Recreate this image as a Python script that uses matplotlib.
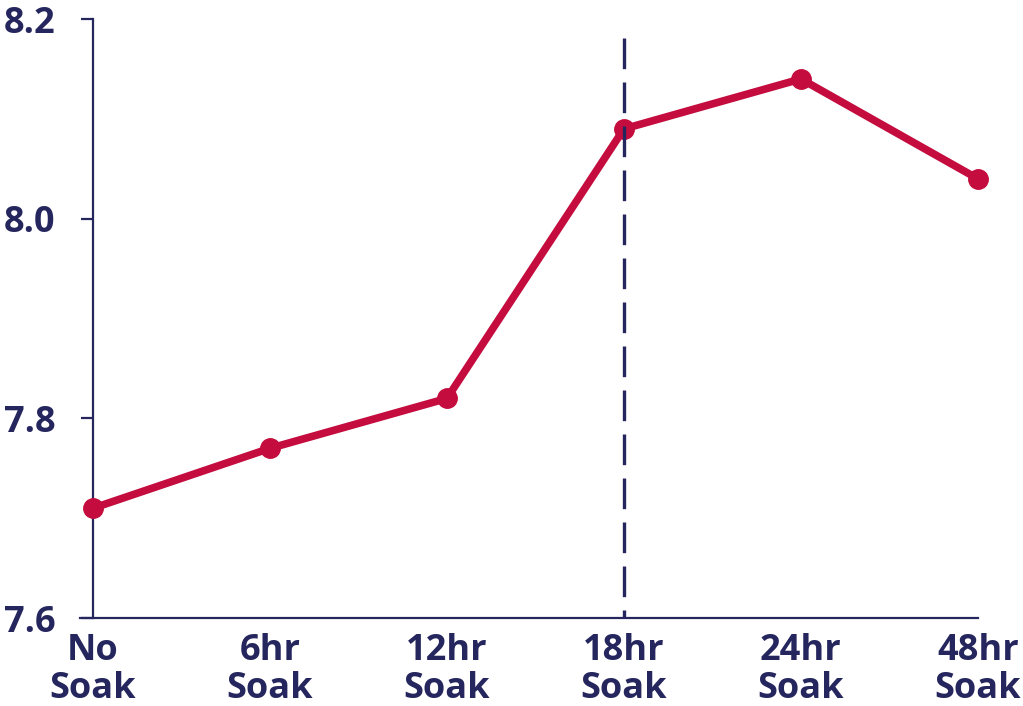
import matplotlib
matplotlib.use("Agg")
import matplotlib.pyplot as plt

categories = ["No\nSoak", "6hr\nSoak", "12hr\nSoak", "18hr\nSoak", "24hr\nSoak", "48hr\nSoak"]
values = [7.71, 7.77, 7.82, 8.09, 8.14, 8.04]
yticks = [7.6, 7.8, 8.0, 8.2]
marker_category = 3
dash_top = 8.181

navy = "#26265e"
red = "#c40c3e"

plt.rcParams['font.family'] = ['Open Sans', 'DejaVu Sans']

fig = plt.figure(figsize=(10.23, 7.06), dpi=100)
ax = fig.add_axes([0.0909, 0.1246, 0.865, 0.8484])

x = list(range(len(categories)))
ax.plot(x, values, color=red, lw=5.5, marker='o', markersize=14, zorder=3, clip_on=False)
vl, = ax.plot([marker_category, marker_category], [dash_top, 7.6], color=navy, lw=2.4, zorder=4, clip_on=False)
vl.set_dashes((9.2, 4.0))

ax.set_xlim(0, len(categories) - 1)
ax.set_ylim(7.6, 8.2)
ax.set_yticks(yticks)
ax.set_yticklabels([f"{v:.1f}" for v in yticks])
ax.set_xticks(x)
ax.set_xticklabels(categories, linespacing=1.05)

for s in ['top', 'right']:
    ax.spines[s].set_visible(False)
for s in ['left', 'bottom']:
    ax.spines[s].set_color(navy)
    ax.spines[s].set_linewidth(1.6)
ax.spines['bottom'].set_bounds(-0.075, len(categories) - 1)

ax.tick_params(axis='y', length=9, width=1.6, color=navy, pad=18,
               labelsize=26, labelcolor=navy)
ax.tick_params(axis='x', length=0, pad=11, labelsize=26, labelcolor=navy)
for lab in ax.get_xticklabels() + ax.get_yticklabels():
    lab.set_fontweight('bold')

fig.savefig("out.png", dpi=100)
